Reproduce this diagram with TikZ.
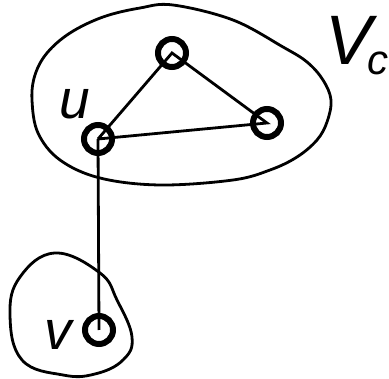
\documentclass[tikz,border=0pt]{standalone}
\usepackage{fontspec}
\setmainfont{Liberation Sans}
\begin{document}
\begin{tikzpicture}[x=1pt,y=-1pt,
  vtx/.style={circle,draw,line width=6pt,minimum size=28pt,inner sep=0pt},
  edge/.style={line width=2.8pt},
  region/.style={line width=2.8pt},
  lbl/.style={inner sep=0pt,anchor=base,font=\fontsize{55}{55}\selectfont\itshape}]
\useasboundingbox (0,0) rectangle (389,379);
% regions
\draw[region] plot[smooth cycle,tension=0.6] coordinates {
 (32,100) (35,75) (47,53) (70,33) (103,17) (140,8) (173,5) (233,20) (283,47)
 (307,62) (323,80) (331,100) (327,122) (317,140) (297,157) (270,170) (233,180)
 (160,185) (100,178) (60,160) (38,133)};
\draw[region] plot[smooth cycle,tension=0.7] coordinates {
 (55,253) (100,273) (117,300) (132,337) (123,360) (95,374) (63,375) (22,360)
 (10,315) (20,277)};
% vertices
\node[vtx] (t) at (172,53) {};
\node[vtx] (r) at (267,123) {};
\node[vtx] (u) at (98,139) {};
\node[vtx] (v) at (99,330) {};
% edges
\draw[edge] (u.center) -- (t.center) -- (r.center) -- (u.center);
\draw[edge] (u.center) -- (v.center);
% labels
\node[lbl] (lu) at (75,119) {u};
\node[lbl] (lv) at (58,350) {v};
\node[lbl,anchor=base west,font=\fontsize{70}{70}\selectfont\itshape] (lV) at (325.7,65)
  {V\kern-5pt\raisebox{-10pt}{\fontsize{42}{42}\selectfont c}};
\end{tikzpicture}
\end{document}
